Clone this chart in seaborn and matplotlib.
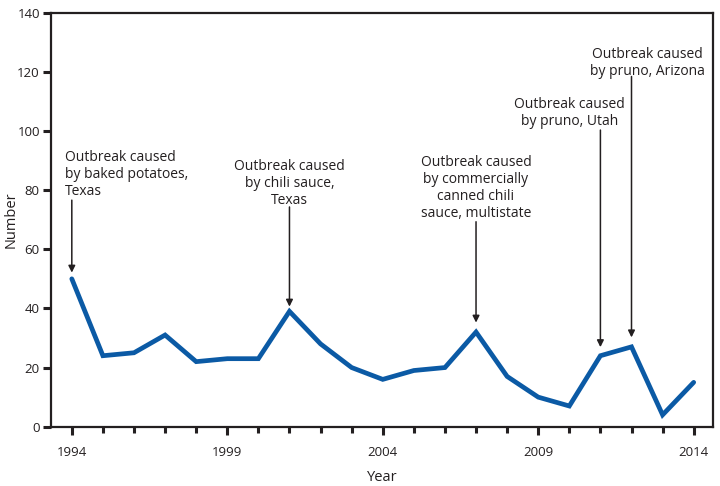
import matplotlib
matplotlib.use("Agg")
import matplotlib.pyplot as plt
import pandas as pd
import seaborn as sns

### data ###
years = list(range(1994, 2015))
counts = [50, 24, 25, 31, 22, 23, 23, 39, 28, 20, 16,
          19, 20, 32, 17, 10, 7, 24, 27, 4, 15]

note_text = ["Outbreak caused\nby baked potatoes,\nTexas",
             "Outbreak caused\nby chili sauce,\nTexas",
             "Outbreak caused\nby commercially\ncanned chili\nsauce, multistate",
             "Outbreak caused\nby pruno, Utah",
             "Outbreak caused\nby pruno, Arizona"]
note_year = [1994, 2001, 2007, 2011, 2012]

df = pd.DataFrame({"Year": years, "Number": counts})

sns.set_style("ticks")
plt.rcParams["font.family"] = ["Open Sans", "DejaVu Sans"]
ink = "#231f20"

fig = plt.figure(figsize=(7.2, 4.86), dpi=100)
ax = fig.add_axes([0.0708, 0.122, 0.919, 0.852])

sns.lineplot(data=df, x="Year", y="Number", color="#0b5aa5", linewidth=3.4,
             ax=ax, solid_joinstyle="miter")

ax.set_xlim(1993.33, 2014.61)
ax.set_ylim(0, 140)
ax.set_xticks(range(1994, 2015, 5))
ax.set_xticks(years, minor=True)
ax.set_yticks(range(0, 141, 20))

for s in ax.spines.values():
    s.set_linewidth(1.6)
    s.set_color(ink)
ax.tick_params(axis="both", which="major", length=6, width=2.2, color=ink,
               labelsize=9.5, labelcolor=ink, pad=2)
ax.tick_params(axis="x", which="minor", length=4, width=2.2, color=ink)
ax.tick_params(axis="x", which="major", pad=8)

ax.set_xlabel("Year", fontsize=10.5, color=ink)
ax.set_ylabel("Number", fontsize=10.5, color=ink)
ax.xaxis.set_label_coords(0.5, -0.105)
ax.yaxis.set_label_coords(-0.049, 0.5)

### annotations (text position, arrow start, arrow tip) ###
text_pos = [(1993.77, 93.6, "left"), (2001.0, 90.5, "center"),
            (2007.0, 91.9, "center"), (2010.0, 111.4, "center"),
            (2012.5, 128.5, "center")]
arrow_top = [76.6, 74.3, 69.3, 100.3, 118.4]
arrow_tip = [52.1, 40.6, 35.2, 26.9, 30.2]

for txt, yr, (tx, ty, ha), a0, a1 in zip(note_text, note_year, text_pos, arrow_top, arrow_tip):
    ax.text(tx, ty, txt, ha=ha, va="top", fontsize=10, color=ink, linespacing=1.2,
            multialignment=ha)
    ax.annotate("", xy=(yr, a1), xytext=(yr, a0),
                arrowprops=dict(arrowstyle="-|>", color=ink, lw=1.1,
                                mutation_scale=10, shrinkA=0, shrinkB=0))

fig.savefig("out.png", dpi=100)
